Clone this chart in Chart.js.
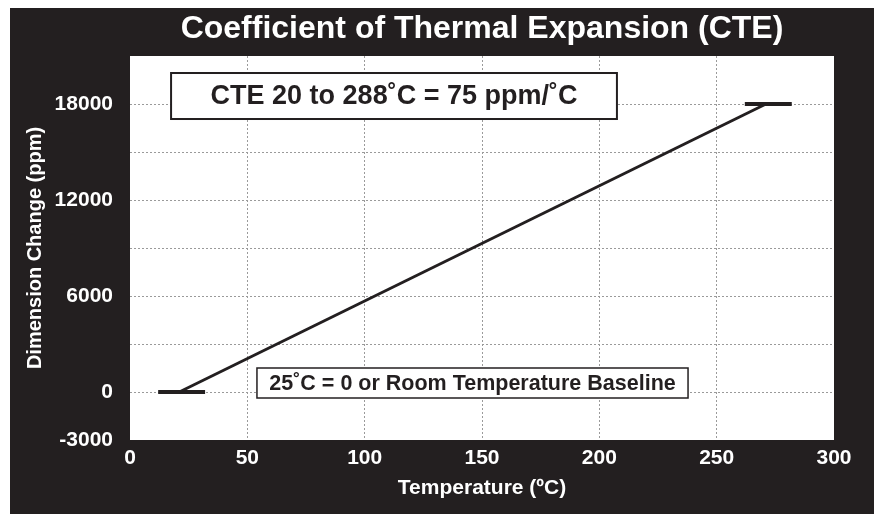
<!DOCTYPE html>
<html>
<head>
<meta charset="utf-8">
<script src="https://cdn.jsdelivr.net/npm/chart.js@4/dist/chart.umd.min.js"></script>
<style>
  html, body { margin: 0; padding: 0; background: #ffffff; }
  canvas { display: block; }
</style>
</head>
<body>
<canvas id="c" width="879" height="514"></canvas>
<script>
// ---- data ----
const tempC = [21, 271];            // CTE line, temperature (°C)
const dimPpm = [0, 18000];          // CTE line, dimension change (ppm)
const lowBarTemp = [12, 32];        // baseline marker
const lowBarPpm = [0, 0];
const highBarTemp = [262, 282];     // upper marker
const highBarPpm = [18000, 18000];
const xTicks = [0, 50, 100, 150, 200, 250, 300];
const yLabelledTicks = [-3000, 0, 6000, 12000, 18000];
const titleText = 'Coefficient of Thermal Expansion (CTE)';
const xTitle = 'Temperature (ºC)';
const yTitle = 'Dimension Change (ppm)';
const noteTop = 'CTE 20 to 288˚C = 75 ppm/˚C';
const noteBottom = '25˚C = 0 or Room Temperature Baseline';

const DARK = '#231f20';
const FONT = "'Liberation Sans', Arial, Helvetica, sans-serif";

function pts(xs, ys) { return xs.map((x, i) => ({ x: x, y: ys[i] })); }

const bgPlugin = {
  id: 'bg',
  beforeDraw(chart) {
    const ctx = chart.ctx, a = chart.chartArea;
    ctx.save();
    ctx.fillStyle = '#ffffff';
    ctx.fillRect(0, 0, chart.width, chart.height);
    ctx.fillStyle = DARK;
    ctx.fillRect(10, 8, chart.width - 15, chart.height - 8);
    ctx.fillStyle = '#ffffff';
    ctx.fillRect(a.left, a.top, a.right - a.left, a.bottom - a.top);
    ctx.restore();
  }
};

const notesPlugin = {
  id: 'notes',
  afterDatasetsDraw(chart, args, opts) {
    const ctx = chart.ctx, xs = chart.scales.x, ys = chart.scales.y;
    opts.boxes.forEach(b => {
      const l = xs.getPixelForValue(b.x0), r = xs.getPixelForValue(b.x1);
      const t = ys.getPixelForValue(b.y0), btm = ys.getPixelForValue(b.y1);
      ctx.save();
      ctx.fillStyle = '#ffffff';
      ctx.fillRect(l, t, r - l, btm - t);
      ctx.strokeStyle = DARK;
      ctx.lineWidth = b.border;
      ctx.strokeRect(l, t, r - l, btm - t);
      ctx.fillStyle = DARK;
      ctx.font = 'bold ' + b.size + 'px ' + FONT;
      ctx.textAlign = 'center';
      ctx.textBaseline = 'middle';
      ctx.fillText(b.text, (l + r) / 2, (t + btm) / 2 + 1);
      ctx.restore();
    });
  }
};

function edgeTransparent(ctx) {
  const n = ctx.chart.scales[ctx.scale.id].ticks.length;
  if (ctx.index === 0 || ctx.index === n - 1) return 'rgba(0,0,0,0)';
  return '#9a9a9a';
}

new Chart(document.getElementById('c'), {
  type: 'scatter',
  data: {
    datasets: [
      { data: pts(tempC, dimPpm), showLine: true, borderColor: DARK, borderWidth: 3, pointRadius: 0 },
      { data: pts(lowBarTemp, lowBarPpm), showLine: true, borderColor: DARK, borderWidth: 4, pointRadius: 0 },
      { data: pts(highBarTemp, highBarPpm), showLine: true, borderColor: DARK, borderWidth: 4, pointRadius: 0 }
    ]
  },
  options: {
    responsive: false,
    animation: false,
    layout: { padding: { left: 10, top: 8, right: 45, bottom: 0 } },
    plugins: {
      legend: { display: false },
      tooltip: { enabled: false },
      title: {
        display: true,
        text: titleText,
        fullSize: false,
        color: '#ffffff',
        font: { family: FONT, size: 32, weight: 'bold', lineHeight: 1 },
        padding: { top: 5.5, bottom: 10.5 }
      },
      notes: {
        boxes: [
          { x0: 17.5, x1: 207.5, y0: 19937, y1: 17062, text: noteTop, size: 27, border: 2 },
          { x0: 54.1, x1: 237.8, y0: 1500, y1: -375, text: noteBottom, size: 21.5, border: 1.5 }
        ]
      }
    },
    scales: {
      x: {
        type: 'linear',
        min: xTicks[0],
        max: xTicks[xTicks.length - 1],
        afterBuildTicks(scale) { scale.ticks = xTicks.map(v => ({ value: v })); },
        afterFit(scale) { scale.height = 74; },
        border: { display: false, dash: [2, 2] },
        grid: { color: edgeTransparent, lineWidth: 1, drawTicks: false },
        ticks: {
          color: '#ffffff',
          font: { family: FONT, size: 21, weight: 'bold', lineHeight: 1 },
          padding: 8,
          maxRotation: 0
        },
        title: {
          display: true,
          text: xTitle,
          color: '#ffffff',
          font: { family: FONT, size: 21, weight: 'bold', lineHeight: 1 },
          padding: { top: 0, bottom: 15 }
        }
      },
      y: {
        type: 'linear',
        min: -3000,
        max: 21000,
        afterFit(scale) { scale.width = 120; },
        border: { display: false, dash: [2, 2] },
        grid: { color: edgeTransparent, lineWidth: 1, drawTicks: false },
        ticks: {
          stepSize: 3000,
          color: '#ffffff',
          font: { family: FONT, size: 21, weight: 'bold', lineHeight: 1 },
          padding: 17,
          callback(v) { return yLabelledTicks.includes(v) ? String(v) : ''; }
        },
        title: {
          display: true,
          text: yTitle,
          color: '#ffffff',
          font: { family: FONT, size: 20, weight: 'bold', lineHeight: 1 },
          padding: { top: 15, bottom: 0 }
        }
      }
    }
  },
  plugins: [bgPlugin, notesPlugin]
});
</script>
</body>
</html>
